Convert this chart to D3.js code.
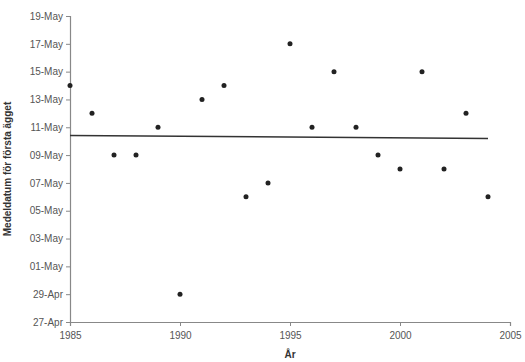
<!DOCTYPE html>
<html>
<head>
<meta charset="utf-8">
<script src="https://cdn.jsdelivr.net/npm/d3@7"></script>
<style>
  body { margin: 0; background: #fff; }
  svg text { font-family: "Liberation Sans", Arial, sans-serif; }
</style>
</head>
<body>
<div id="chart"></div>
<script>
// mean date of first egg per year
var years = [1985, 1986, 1987, 1988, 1989, 1990, 1991, 1992, 1993, 1994,
             1995, 1996, 1997, 1998, 1999, 2000, 2001, 2002, 2003, 2004];
var dates = ["14-May", "12-May", "09-May", "09-May", "11-May", "29-Apr", "13-May", "14-May", "06-May", "07-May",
             "17-May", "11-May", "15-May", "11-May", "09-May", "08-May", "15-May", "08-May", "12-May", "06-May"];
var yTicks = ["27-Apr", "29-Apr", "01-May", "03-May", "05-May", "07-May",
              "09-May", "11-May", "13-May", "15-May", "17-May", "19-May"];
var xTicks = [1985, 1990, 1995, 2000, 2005];

var W = 525, H = 362,
    margin = {top: 16, right: 15, bottom: 40, left: 70};

var parse = d3.timeParse("%d-%b"),
    fmt = d3.timeFormat("%d-%b");

var data = years.map(function(y, i) { return {year: y, date: parse(dates[i])}; });

var svg = d3.select("#chart").append("svg").attr("width", W).attr("height", H);

var x = d3.scaleLinear().domain([1985, 2005]).range([margin.left, W - margin.right]);
var y = d3.scaleTime().domain([parse(yTicks[0]), parse(yTicks[yTicks.length - 1])])
    .range([H - margin.bottom, margin.top]);

var yAxis = svg.append("g")
    .attr("transform", "translate(" + margin.left + ",0)")
    .call(d3.axisLeft(y).tickValues(yTicks.map(parse)).tickFormat(fmt).tickSize(4).tickPadding(3));

var xAxis = svg.append("g")
    .attr("transform", "translate(0," + (H - margin.bottom) + ")")
    .call(d3.axisBottom(x).tickValues(xTicks).tickFormat(d3.format("d")).tickSize(4).tickPadding(6));

svg.selectAll(".domain").attr("stroke", "#888").attr("stroke-width", 1.2);
svg.selectAll(".tick line").attr("stroke", "#888");
svg.selectAll(".tick text").attr("fill", "#555").style("font-size", "10px");

// linear trend
var n = data.length,
    mx = d3.mean(data, function(d) { return d.year; }),
    my = d3.mean(data, function(d) { return +d.date; }),
    sxy = d3.sum(data, function(d) { return (d.year - mx) * (+d.date - my); }),
    sxx = d3.sum(data, function(d) { return (d.year - mx) * (d.year - mx); }),
    slope = sxy / sxx;
var trend = [1985, 2004].map(function(yr) { return {year: yr, date: new Date(my + slope * (yr - mx))}; });

svg.append("path")
    .datum(trend)
    .attr("fill", "none")
    .attr("stroke", "#333")
    .attr("stroke-width", 1.5)
    .attr("d", d3.line().x(function(d) { return x(d.year); }).y(function(d) { return y(d.date); }));

svg.append("g").selectAll("circle")
    .data(data)
    .enter().append("circle")
    .attr("cx", function(d) { return x(d.year); })
    .attr("cy", function(d) { return y(d.date); })
    .attr("r", 2.5)
    .attr("fill", "#222");

svg.append("text")
    .attr("x", x(1995))
    .attr("y", H - 4)
    .attr("text-anchor", "middle")
    .style("font-size", "10px")
    .style("font-weight", "bold")
    .attr("fill", "#333")
    .text("År");

svg.append("text")
    .attr("transform", "translate(11," + ((margin.top + H - margin.bottom) / 2) + ") rotate(-90)")
    .attr("text-anchor", "middle")
    .style("font-size", "10px")
    .style("font-weight", "bold")
    .attr("fill", "#333")
    .text("Medeldatum för första ägget");
</script>
</body>
</html>
